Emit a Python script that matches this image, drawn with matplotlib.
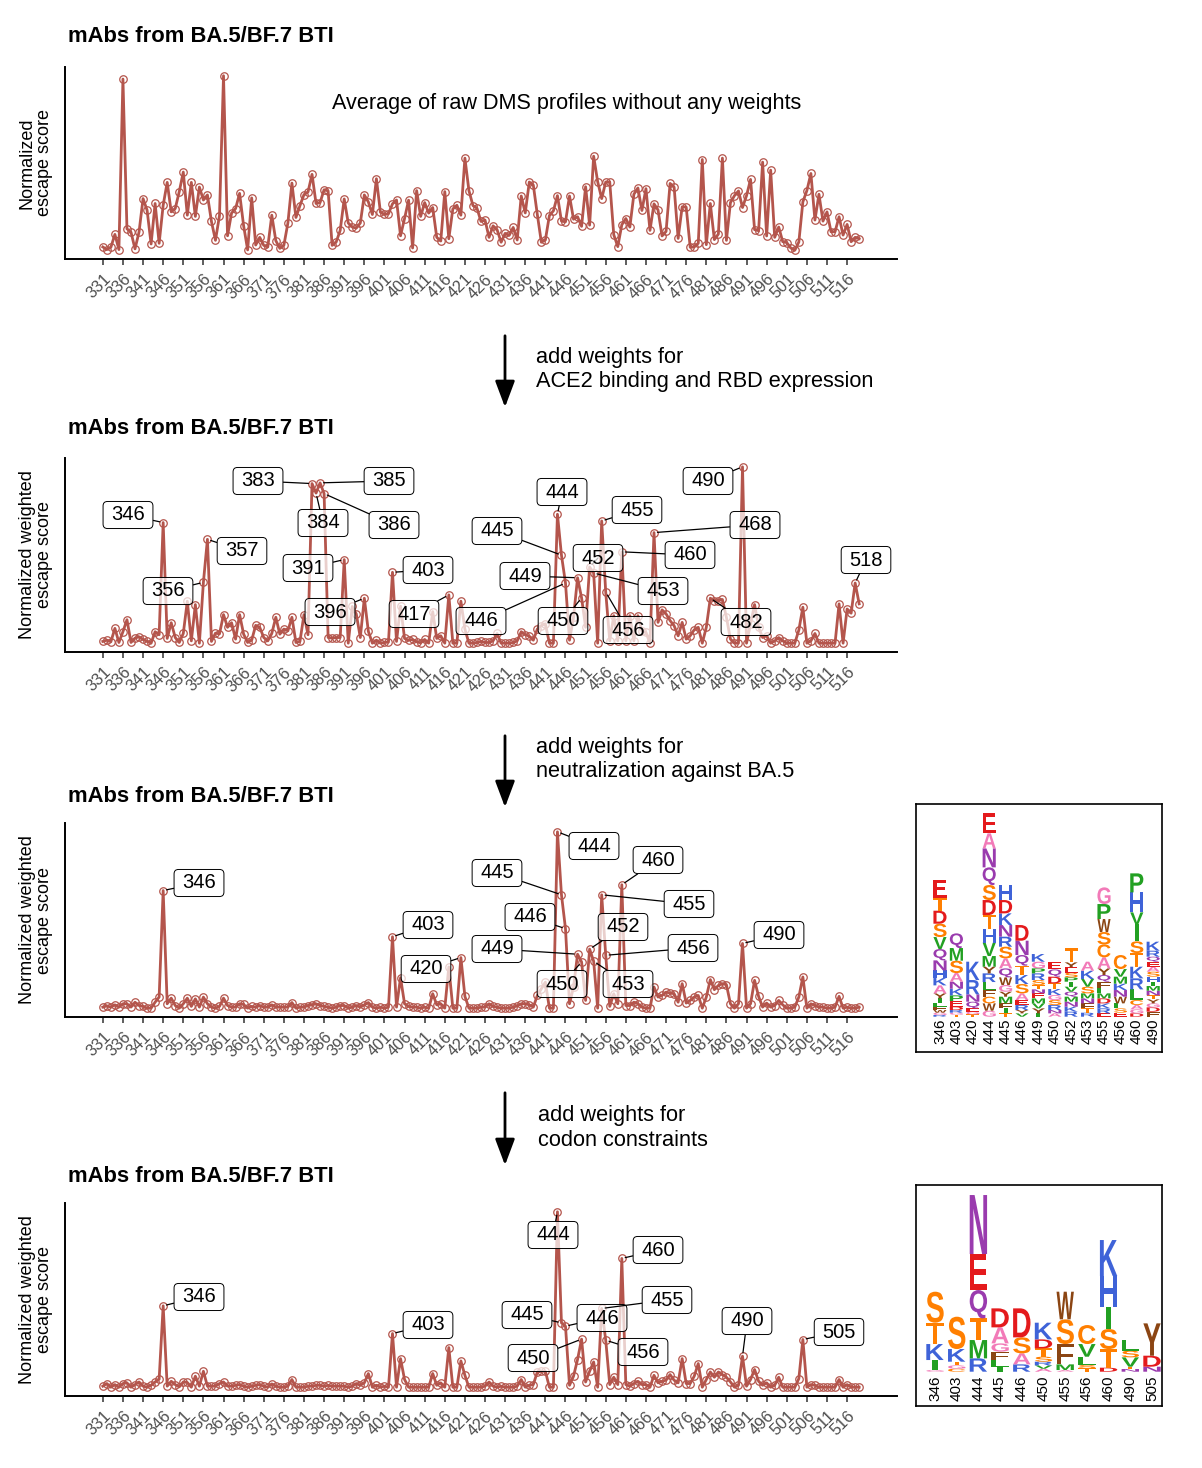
import matplotlib
matplotlib.use("Agg")
import matplotlib.pyplot as plt
from matplotlib.textpath import TextPath
from matplotlib.font_manager import FontProperties
from matplotlib.patches import PathPatch, BoxStyle, FancyArrowPatch
from matplotlib.transforms import Affine2D, IdentityTransform

plt.rcParams['font.family'] = ['Liberation Sans', 'DejaVu Sans']

# ---------------- data ----------------
sites = list(range(331, 520))

raw_avg = [
    1.9, 0.4, 1.7, 9.1, 0.4, 98.1, 12.3, 10.4, 0.8, 10.4,
    29.6, 23.0, 3.6, 26.8, 4.0, 25.8, 38.9, 22.0, 23.9, 33.6,
    44.8, 20.1, 38.9, 19.4, 36.2, 28.8, 31.7, 16.5, 5.7, 19.9,
    100, 8.3, 21.3, 23.9, 32.6, 14.0, 0.2, 30.0, 3.0, 7.4,
    2.8, 1.9, 20.1, 5.5, 1.1, 2.8, 15.6, 38.5, 18.8, 25.6,
    31.9, 33.4, 43.5, 26.8, 27.3, 34.7, 34.0, 2.8, 4.7, 11.4,
    29.4, 15.6, 13.3, 12.7, 15.6, 31.7, 27.7, 20.5, 41.0, 21.8,
    20.5, 20.9, 26.6, 28.8, 8.3, 18.2, 28.7, 1.3, 34.2, 19.4,
    27.3, 21.3, 24.5, 7.4, 5.3, 33.6, 6.6, 23.7, 25.8, 20.1,
    52.8, 34.2, 25.6, 24.1, 16.5, 17.3, 7.4, 14.0, 11.8, 4.6,
    9.7, 8.5, 13.1, 5.9, 31.1, 21.4, 39.1, 37.4, 20.5, 4.6,
    5.9, 19.9, 22.6, 31.3, 16.7, 16.3, 31.1, 17.8, 19.2, 13.7,
    36.4, 14.4, 53.9, 39.3, 29.6, 39.1, 39.1, 8.9, 2.1, 14.6,
    18.2, 13.3, 32.1, 35.7, 22.8, 35.3, 11.4, 26.6, 23.1, 8.2,
    10.8, 38.3, 36.2, 6.8, 24.9, 24.7, 1.7, 1.9, 4.0, 52.0,
    3.2, 26.8, 6.1, 9.3, 52.8, 5.7, 27.3, 31.3, 34.0, 24.5,
    31.3, 40.6, 11.8, 11.2, 50.5, 8.2, 45.9, 7.4, 13.3, 4.9,
    4.4, 1.3, 0.0, 4.7, 27.7, 34.2, 44.0, 17.3, 32.1, 16.7,
    22.0, 10.6, 10.6, 19.2, 8.7, 14.8, 4.9, 7.4, 6.6,
]

w_ace2 = [
    1.0, 1.7, 0.8, 8.4, 0.4, 6.5, 13.3, 0.4, 2.9, 3.6,
    2.1, 1.1, 0.0, 6.5, 4.8, 68.4, 2.7, 11.6, 3.2, 0.4,
    5.5, 23.8, 1.3, 21.9, 0.0, 34.5, 58.9, 1.0, 5.7, 5.3,
    16.2, 9.0, 11.6, 2.3, 16.2, 5.1, 0.4, 1.7, 10.1, 9.0,
    3.2, 1.3, 5.5, 14.7, 5.1, 8.0, 7.0, 14.7, 0.4, 1.0,
    16.2, 4.8, 90.5, 85.1, 90.9, 84.8, 3.2, 2.9, 3.2, 3.2,
    47.4, 0.0, 20.8, 16.6, 3.2, 25.5, 6.7, 0.0, 1.7, 0.0,
    0.4, 0.6, 40.2, 1.0, 21.0, 2.7, 1.7, 2.1, 0.8, 0.2,
    2.1, 0.0, 17.9, 2.7, 4.2, 0.0, 27.4, 0.0, 0.0, 23.8,
    8.0, 0.0, 0.0, 0.4, 1.0, 0.4, 0.4, 1.3, 5.5, 0.0,
    0.0, 0.0, 0.4, 1.3, 6.5, 4.8, 4.0, 1.7, 8.0, 10.0,
    11.0, 0.0, 0.0, 73.1, 49.9, 34.1, 1.7, 14.7, 37.1, 25.7,
    9.0, 43.2, 39.8, 0.0, 69.3, 29.0, 1.3, 15.6, 1.3, 51.8,
    1.3, 15.6, 1.3, 15.6, 7.0, 6.1, 0.0, 62.7, 11.8, 18.9,
    16.6, 12.8, 9.9, 4.2, 11.8, 2.3, 4.2, 7.6, 9.0, 0.0,
    9.0, 25.5, 24.2, 24.2, 24.8, 14.7, 2.3, 0.0, 0.0, 100,
    0.0, 10.9, 21.9, 9.0, 3.2, 4.2, 0.0, 1.3, 3.2, 1.3,
    0.0, 0.0, 0.0, 7.4, 20.4, 0.0, 1.3, 5.5, 0.0, 0.0,
    0.0, 0.0, 0.0, 22.3, 0.0, 19.4, 17.0, 34.1, 22.3,
]

w_neut = [
    0.6, 1.3, 0.6, 1.9, 0.6, 2.5, 2.5, 0.6, 3.4, 1.5,
    1.0, 0.0, 0.0, 3.4, 6.3, 66.7, 2.5, 5.7, 1.5, 0.0,
    2.5, 5.7, 1.0, 5.3, 0.6, 6.3, 2.5, 0.6, 0.0, 1.0,
    5.7, 1.5, 0.6, 0.6, 2.5, 2.1, 0.0, 1.0, 0.6, 1.5,
    0.6, 0.6, 1.9, 0.6, 0.6, 0.6, 0.6, 3.2, 0.0, 0.6,
    0.6, 1.5, 1.9, 2.5, 1.5, 1.0, 0.6, 0.0, 0.6, 1.5,
    1.5, 0.0, 0.6, 1.5, 0.6, 1.9, 3.2, 0.6, 0.0, 0.6,
    0.0, 0.6, 40.5, 0.6, 17.3, 2.5, 1.0, 0.6, 0.6, 0.0,
    0.6, 0.0, 8.2, 1.9, 2.5, 0.0, 23.4, 0.0, 0.0, 28.7,
    6.7, 0.0, 0.0, 0.0, 0.6, 0.6, 2.5, 1.0, 0.6, 0.0,
    0.0, 0.0, 0.6, 1.3, 2.5, 2.5, 1.9, 0.6, 7.2, 11.0,
    14.8, 0.0, 0.0, 100, 64.3, 45.1, 2.5, 12.0, 30.6, 26.2,
    4.4, 33.5, 26.6, 0.0, 64.3, 30.0, 1.0, 8.2, 2.5, 70.0,
    1.5, 1.5, 3.4, 2.5, 0.6, 0.0, 0.0, 12.0, 6.3, 7.2,
    9.1, 8.6, 8.2, 3.4, 13.9, 2.9, 4.4, 6.3, 7.2, 0.0,
    6.3, 16.2, 10.5, 12.9, 13.9, 13.3, 2.5, 0.0, 2.5, 36.7,
    0.0, 2.5, 15.8, 6.7, 0.6, 2.9, 0.6, 1.5, 4.4, 1.9,
    0.0, 0.0, 0.6, 6.3, 17.7, 0.0, 2.5, 1.5, 0.6, 0.6,
    0.0, 0.0, 0.6, 6.7, 0.0, 0.6, 0.0, 0.0, 0.6,
]

w_codon = [
    0.6, 2.1, 0.0, 1.5, 0.0, 2.1, 2.5, 0.0, 1.5, 3.0,
    0.6, 0.0, 1.1, 3.0, 4.6, 46.4, 0.6, 3.4, 1.5, 0.2,
    3.0, 2.7, 0.0, 6.3, 0.6, 9.1, 0.6, 0.6, 0.6, 2.1,
    3.0, 0.6, 0.6, 1.1, 1.5, 0.6, 0.0, 0.6, 1.1, 1.5,
    0.6, 0.0, 1.9, 0.6, 0.0, 0.0, 0.6, 4.4, 0.0, 0.0,
    0.0, 0.6, 0.6, 1.1, 1.1, 0.6, 1.1, 0.6, 0.6, 0.6,
    0.6, 0.0, 0.6, 2.1, 1.1, 2.5, 7.8, 0.0, 1.1, 0.0,
    0.6, 0.0, 30.6, 0.0, 16.3, 4.4, 0.0, 0.0, 0.0, 0.0,
    0.0, 0.0, 7.8, 1.1, 2.5, 0.0, 22.6, 0.0, 0.0, 15.0,
    6.8, 0.0, 0.0, 0.0, 0.0, 0.6, 3.0, 0.6, 0.0, 0.6,
    0.0, 0.0, 0.0, 0.6, 4.4, 0.0, 1.1, 1.5, 8.7, 9.1,
    9.1, 0.0, 0.0, 100, 36.7, 34.8, 1.1, 6.3, 15.8, 27.4,
    3.0, 9.1, 14.4, 0.0, 44.9, 26.8, 1.5, 5.7, 1.5, 73.4,
    1.5, 0.6, 2.1, 3.4, 1.5, 1.5, 0.0, 6.8, 2.5, 3.4,
    4.0, 7.2, 4.0, 2.5, 16.3, 2.1, 2.1, 6.3, 13.5, 0.0,
    4.4, 8.7, 5.7, 8.7, 7.2, 5.7, 3.0, 0.0, 1.1, 17.7,
    0.6, 4.4, 10.1, 3.4, 1.1, 2.5, 0.0, 1.1, 5.7, 0.0,
    0.0, 0.0, 0.0, 4.9, 27.2, 0.0, 1.5, 1.1, 0.0, 0.0,
    0.0, 0.0, 0.0, 4.4, 0.0, 1.5, 0.0, 0.0, 0.0,
]

tick_sites = list(range(331, 517, 5))

# label box centres (image pixel positions) for the repelled labels
labels_ace2 = {346: (128, 515), 356: (168, 591), 357: (242, 551), 383: (258, 481),
               384: (323, 523), 385: (389, 481), 386: (394, 525), 391: (308, 568),
               396: (330, 612), 403: (428, 570), 417: (414, 614), 444: (562, 492),
               445: (497, 531), 446: (481, 621), 449: (525, 576), 450: (563, 621),
               452: (598, 558), 453: (663, 591), 455: (637, 510), 456: (628, 630),
               460: (690, 555), 468: (755, 525), 482: (746, 622), 490: (708, 481),
               518: (866, 560)}
labels_neut = {346: (199, 883), 403: (428, 925), 420: (426, 969), 444: (594, 846),
               445: (497, 873), 446: (530, 917), 449: (497, 949), 450: (562, 984),
               452: (623, 927), 453: (628, 984), 455: (689, 904), 456: (693, 948),
               460: (658, 860), 490: (779, 935)}
labels_codon = {346: (199, 1297), 403: (428, 1325), 444: (553, 1235), 445: (527, 1315),
                446: (602, 1318), 450: (533, 1358), 455: (667, 1300), 456: (643, 1352),
                460: (658, 1250), 490: (747, 1321), 505: (839, 1332)}

# sequence logos: per site, letters from top to bottom with heights
logo1_sites = ['346', '403', '420', '444', '445', '446', '449', '450', '452', '453',
               '455', '456', '460', '490']
logo1_stacks = [
    [('E', 5.4), ('T', 3.8), ('D', 3.9), ('S', 4.0), ('V', 3.6), ('Q', 3.4), ('N', 3.0),
     ('H', 2.3), ('K', 2.2), ('A', 2.4), ('Y', 1.5), ('I', 1.3), ('L', 1.2), ('F', 1.0),
     ('W', 0.8), ('G', 0.7), ('R', 0.5)],
    [('Q', 4.4), ('M', 3.8), ('S', 3.7), ('A', 2.6), ('N', 2.1), ('K', 2.0), ('P', 1.7),
     ('E', 1.7), ('D', 1.0), ('R', 0.8), ('G', 0.6), ('T', 0.6)],
    [('K', 5.5), ('R', 4.3), ('N', 2.2), ('Q', 2.0), ('E', 1.0), ('G', 0.8), ('T', 0.7)],
    [('E', 6.0), ('A', 4.5), ('N', 5.7), ('Q', 5.3), ('S', 4.5), ('D', 4.5), ('T', 4.3),
     ('H', 4.0), ('V', 4.0), ('M', 3.2), ('Y', 2.0), ('R', 2.6), ('L', 2.4), ('F', 2.0),
     ('C', 2.0), ('W', 2.2), ('G', 1.8)],
    [('H', 4.5), ('D', 4.0), ('K', 3.5), ('N', 3.5), ('R', 3.0), ('S', 3.5), ('A', 3.0),
     ('Q', 2.7), ('W', 2.3), ('G', 2.0), ('Y', 1.5), ('M', 2.0), ('F', 1.5), ('I', 1.5),
     ('T', 1.0)],
    [('D', 4.7), ('N', 4.3), ('Q', 3.2), ('T', 2.8), ('K', 2.7), ('S', 2.8), ('A', 2.0),
     ('E', 1.5), ('R', 1.5), ('Y', 1.0), ('V', 1.0)],
    [('K', 2.3), ('G', 2.0), ('P', 1.5), ('R', 2.0), ('S', 1.5), ('T', 1.3), ('N', 1.2),
     ('E', 1.5), ('M', 1.5), ('V', 1.5), ('Y', 1.5), ('I', 1.0)],
    [('E', 2.1), ('Q', 2.2), ('D', 2.0), ('T', 1.7), ('K', 1.8), ('G', 1.5), ('S', 1.5),
     ('R', 1.5), ('N', 1.0), ('A', 1.0)],
    [('T', 4.2), ('Y', 1.5), ('E', 1.6), ('S', 1.4), ('P', 1.3), ('I', 1.5), ('V', 1.5),
     ('Q', 1.5), ('M', 1.5), ('N', 1.5), ('K', 1.5), ('R', 1.5)],
    [('A', 2.7), ('K', 2.5), ('V', 2.3), ('S', 2.0), ('M', 1.5), ('N', 1.5), ('F', 1.5),
     ('T', 1.3), ('R', 1.2)],
    [('G', 5.0), ('P', 4.5), ('W', 3.9), ('S', 3.7), ('C', 3.9), ('A', 3.3), ('Y', 2.0),
     ('Q', 2.0), ('F', 2.0), ('L', 1.5), ('M', 1.5), ('D', 1.5), ('K', 1.5), ('R', 1.5),
     ('E', 1.0)],
    [('C', 4.2), ('V', 2.3), ('M', 2.1), ('K', 1.9), ('N', 2.0), ('W', 2.0), ('L', 1.5),
     ('S', 1.3), ('E', 1.2)],
    [('P', 5.7), ('H', 6.0), ('V', 3.6), ('I', 5.1), ('S', 3.5), ('T', 4.1), ('K', 3.5),
     ('R', 3.3), ('L', 3.2), ('C', 1.5), ('A', 1.3), ('G', 1.2), ('D', 1.0)],
    [('K', 2.7), ('R', 1.8), ('Q', 1.5), ('E', 1.5), ('A', 1.5), ('S', 1.5), ('H', 1.5),
     ('I', 1.3), ('M', 1.4), ('N', 1.4), ('T', 1.2), ('Y', 1.2), ('G', 1.2), ('D', 1.3),
     ('F', 1.5)],
]

logo2_sites = ['346', '403', '444', '445', '446', '450', '455', '456', '460', '490', '505']
logo2_stacks = [
    [('S', 9.3), ('T', 6.4), ('K', 4.8), ('I', 3.0), ('G', 0.5)],
    [('S', 9.7), ('K', 3.8), ('T', 1.1), ('G', 1.0), ('C', 0.9)],
    [('N', 17.7), ('E', 10.8), ('Q', 8.5), ('T', 6.5), ('M', 5.5), ('R', 4.0)],
    [('D', 5.7), ('A', 4.8), ('G', 2.5), ('F', 2.5), ('L', 2.0), ('I', 1.5)],
    [('D', 8.7), ('S', 4.8), ('A', 3.3), ('R', 2.2)],
    [('K', 5.0), ('D', 2.7), ('T', 2.5), ('S', 1.5), ('R', 1.1), ('V', 1.0), ('A', 0.9)],
    [('W', 8.3), ('S', 7.4), ('F', 6.1), ('M', 1.7), ('A', 0.5)],
    [('C', 5.7), ('V', 3.8), ('L', 2.5), ('S', 1.0), ('T', 1.0)],
    [('K', 10.8), ('H', 9.2), ('I', 6.7), ('S', 6.0), ('T', 5.6), ('D', 1.2)],
    [('L', 3.2), ('S', 2.0), ('V', 2.8), ('T', 0.7), ('N', 0.8)],
    [('Y', 9.7), ('D', 3.3), ('N', 1.5)],
]

# ---------------- styling ----------------
W, H = 1202, 1468
fig = plt.figure(figsize=(W / 100, H / 100), dpi=100)


def fx(px):
    return px / W


def fy(py):
    return 1 - py / H


LINE_COLOR = '#B4554C'
AX_LEFT, AX_RIGHT = 65, 897
TITLE = 'mAbs from BA.5/BF.7 BTI'

_round = BoxStyle.Round(pad=0.0, rounding_size=0.22)


def label_box(x0, y0, width, height, mutation_size):
    px = 0.40 * mutation_size
    py = 0.20 * mutation_size
    return _round(x0 - px, y0 - py, width + 2 * px, height + 2 * py, mutation_size)


panels = [
    (raw_avg, 67, 259, 'Normalized\nescape score', None, 36),
    (w_ace2, 458, 652, 'Normalized weighted\nescape score', labels_ace2, 428),
    (w_neut, 823, 1017, 'Normalized weighted\nescape score', labels_neut, 796),
    (w_codon, 1203, 1396, 'Normalized weighted\nescape score', labels_codon, 1177),
]

for data, top, bot, ylab, labels, title_y in panels:
    ax = fig.add_axes([fx(AX_LEFT), fy(bot), (AX_RIGHT - AX_LEFT) / W, (bot - top) / H])
    ax.plot(sites, data, color=LINE_COLOR, lw=2.0, marker='o', ms=5.4,
            mfc='none', mec=LINE_COLOR, mew=0.9, zorder=2, clip_on=False)
    span = sites[-1] - sites[0]
    ax.set_xlim(sites[0] - 0.05 * span, sites[-1] + 0.05 * span)
    ax.set_ylim(-5, 105)
    ax.set_yticks([])
    ax.set_xticks(tick_sites)
    ax.set_xticklabels([str(s) for s in tick_sites], rotation=45, ha='right',
                       va='top', rotation_mode='anchor')
    ax.tick_params(axis='x', length=4, width=1.1, color='#333333', labelsize=11.8,
                   labelcolor='#4D4D4D', pad=5)
    for s in ('top', 'right'):
        ax.spines[s].set_visible(False)
    for s in ('left', 'bottom'):
        ax.spines[s].set_linewidth(1.4)
        ax.spines[s].set_color('black')
    ax.patch.set_alpha(0)
    fig.text(fx(68), fy(title_y), TITLE, fontsize=15.8, fontweight='bold',
             ha='left', va='center')
    fig.text(fx(36), fy((top + bot) / 2), ylab, rotation=90, ha='center', va='center',
             fontsize=13, linespacing=1.05, multialignment='center')
    if labels:
        for site, (px, py) in labels.items():
            val = data[sites.index(site)]
            ax.annotate(str(site), xy=(site, val), xycoords='data',
                        xytext=(px, H - py), textcoords='figure pixels',
                        ha='center', va='center', fontsize=14.5, zorder=6,
                        bbox=dict(boxstyle=label_box, fc=(1, 1, 1, 0.72),
                                  ec='black', lw=0.7),
                        arrowprops=dict(arrowstyle='-', color='black', lw=0.9,
                                        shrinkA=0, shrinkB=2.5),
                        annotation_clip=False)

fig.text(fx(567), fy(103), 'Average of raw DMS profiles without any weights',
         fontsize=15.6, ha='center', va='center')

# arrows with explanatory text
arrow_specs = [
    (333, 410, ['add weights for', 'ACE2 binding and RBD expression'], 536, (357, 382)),
    (733, 810, ['add weights for', 'neutralization against BA.5'], 536, (747, 772)),
    (1090, 1168, ['add weights for', 'codon constraints'], 538, (1116, 1141)),
]
for y0, y1, lines, tx, tys in arrow_specs:
    arr = FancyArrowPatch((505, H - y0), (505, H - y1), transform=IdentityTransform(),
                          arrowstyle='-|>,head_length=0.8,head_width=0.3',
                          mutation_scale=20, lw=2.0, color='black')
    fig.add_artist(arr)
    for line, ty in zip(lines, tys):
        fig.text(fx(tx), fy(ty), line, fontsize=15.7, ha='left', va='center')

# ---------------- sequence logos ----------------
AA_COLORS = {}
for aa in 'ED':
    AA_COLORS[aa] = '#E41A1C'
for aa in 'TSC':
    AA_COLORS[aa] = '#FF7F00'
for aa in 'QN':
    AA_COLORS[aa] = '#9A3BAE'
for aa in 'HKR':
    AA_COLORS[aa] = '#3F63D8'
for aa in 'AG':
    AA_COLORS[aa] = '#F27AB8'
for aa in 'VILMP':
    AA_COLORS[aa] = '#22A022'
for aa in 'YWF':
    AA_COLORS[aa] = '#8B4513'

fp_logo = FontProperties(family='Liberation Sans', weight='bold')
NARROW = {'I': 0.3}


def draw_letter(ax, ch, xc, y, w, h):
    tp = TextPath((0, 0), ch, size=1, prop=fp_logo)
    bb = tp.get_extents()
    w = w * NARROW.get(ch, 1.0)
    t = (Affine2D().translate(-bb.x0, -bb.y0)
         .scale(w / bb.width, h / bb.height).translate(xc - w / 2, y))
    ax.add_patch(PathPatch(t.transform_path(tp), facecolor=AA_COLORS[ch],
                           edgecolor='none', lw=0))


def draw_logo(box, col0, step, base_y, names, stacks, lab_off):
    left, top, right, bottom = box
    ax = fig.add_axes([fx(left), fy(bottom), (right - left) / W, (bottom - top) / H])
    unit = 10 / 3
    ax.set_xlim((left - col0) / step, (right - col0) / step)
    ax.set_ylim(-(bottom - base_y) / unit, (base_y - top) / unit)
    for i, (name, stack) in enumerate(zip(names, stacks)):
        y = 0.0
        for letter, h in reversed(stack):
            draw_letter(ax, letter, i, y, 0.8, h)
            y += h
        ax.text(i, lab_off, name, rotation=90, ha='center', va='top', fontsize=11)
    ax.set_xticks([])
    ax.set_yticks([])
    for s in ax.spines.values():
        s.set_linewidth(1.2)
        s.set_color('black')


draw_logo((916, 804, 1162, 1052), 940, 16.4, 1016.7, logo1_sites, logo1_stacks, -0.6)
draw_logo((916, 1185, 1162, 1406), 935, 21.7, 1371.7, logo2_sites, logo2_stacks, -1.0)

fig.savefig('out.png', dpi=100)
